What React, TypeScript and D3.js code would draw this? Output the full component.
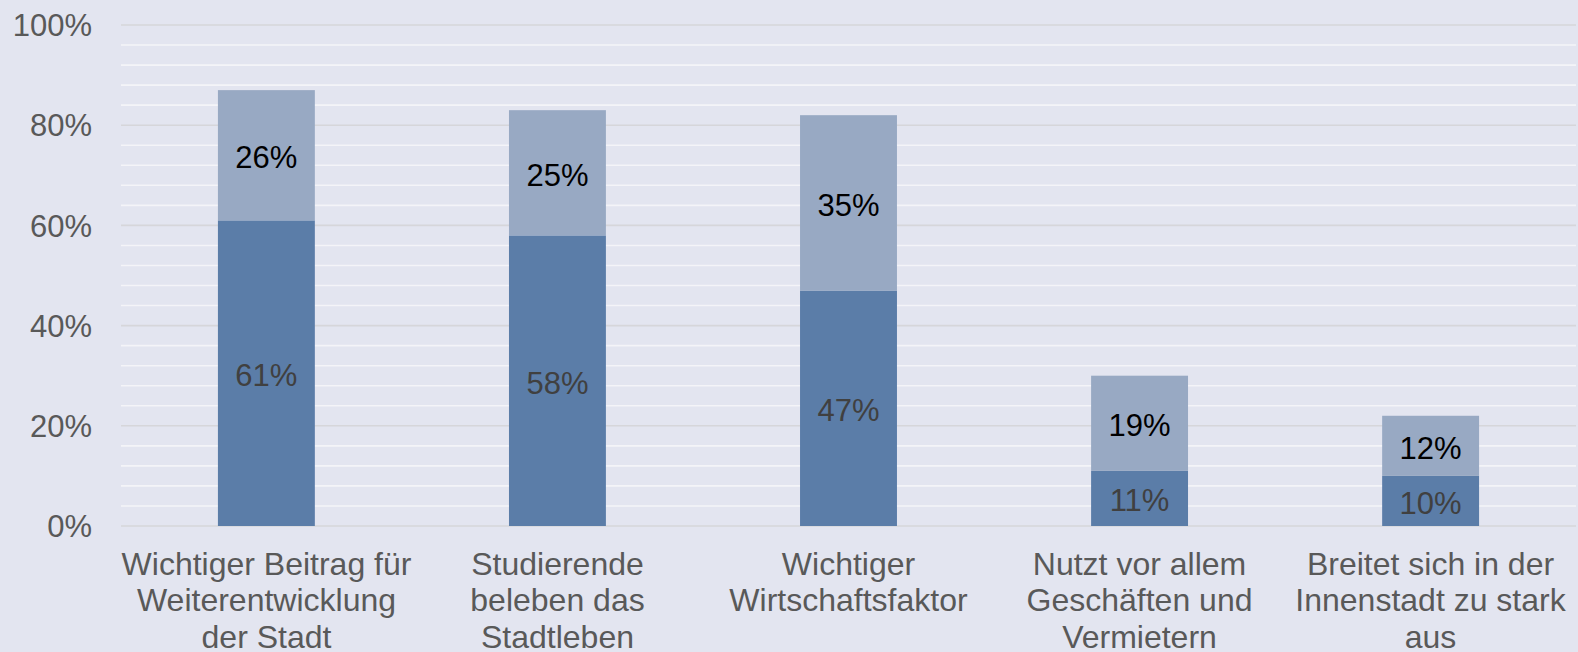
import React from "react";
import * as d3 from "d3";

const categories = [
  ["Wichtiger Beitrag für", "Weiterentwicklung", "der Stadt"],
  ["Studierende", "beleben das", "Stadtleben"],
  ["Wichtiger", "Wirtschaftsfaktor"],
  ["Nutzt vor allem", "Geschäften und", "Vermietern"],
  ["Breitet sich in der", "Innenstadt zu stark", "aus"],
];
const strongValues = [61, 58, 47, 11, 10];
const partlyValues = [26, 25, 35, 19, 12];
const yTicks = [0, 20, 40, 60, 80, 100];
const minorTicks = d3.range(0, 101, 4);

const W = 1578;
const H = 652;
const left = 121;
const right = 1576;
const y0 = 526;
const y100 = 25;
const font = "'Liberation Sans', Arial, sans-serif";

export default function App() {
  const x = d3
    .scaleBand<number>()
    .domain(d3.range(categories.length))
    .range([left, right])
    .paddingInner(0.667)
    .paddingOuter(0.333);
  const band = d3.scaleBand<number>().domain(d3.range(categories.length)).range([left, right]);
  const y = d3.scaleLinear().domain([0, 100]).range([y0, y100]);
  const bw = x.bandwidth();

  return (
    <svg width={W} height={H} style={{ position: "absolute", left: 0, top: 0, display: "block" }}>
      <rect x={0} y={0} width={W} height={H} fill="#E3E5F0" />
      {minorTicks
        .filter((t) => t % 20 !== 0)
        .map((t) => (
          <line key={"m" + t} x1={left} x2={right} y1={y(t)} y2={y(t)} stroke="#F4F4F8" strokeWidth={1.6} />
        ))}
      {yTicks.map((t) => (
        <line key={"g" + t} x1={left} x2={right} y1={y(t)} y2={y(t)} stroke="#D6D6DA" strokeWidth={1.6} />
      ))}
      {yTicks.map((t) => (
        <text
          key={"t" + t}
          x={92}
          y={y(t)}
          dy="0.36em"
          textAnchor="end"
          fontFamily={font}
          fontSize={31}
          fill="#595959"
        >
          {t}%
        </text>
      ))}
      {categories.map((c, i) => {
        const bx = x(i)!;
        const s = strongValues[i];
        const p = partlyValues[i];
        const cx = bx + bw / 2;
        const lx = band(i)! + band.bandwidth() / 2;
        return (
          <g key={i}>
            <rect x={bx} y={y(s)} width={bw} height={y(0) - y(s)} fill="#5B7DA8" />
            <rect x={bx} y={y(s + p)} width={bw} height={y(s) - y(s + p)} fill="#98A9C3" />
            <text
              x={cx}
              y={(y(0) + y(s)) / 2}
              dy="0.42em"
              textAnchor="middle"
              fontFamily={font}
              fontSize={31}
              fill="#404040"
            >
              {s}%
            </text>
            <text
              x={cx}
              y={(y(s) + y(s + p)) / 2}
              dy="0.42em"
              textAnchor="middle"
              fontFamily={font}
              fontSize={31}
              fill="#000000"
            >
              {p}%
            </text>
            <text x={lx} y={575} textAnchor="middle" fontFamily={font} fontSize={32} fill="#595959">
              {c.map((line, j) => (
                <tspan key={j} x={lx} y={575 + j * 36.3}>
                  {line}
                </tspan>
              ))}
            </text>
          </g>
        );
      })}
    </svg>
  );
}
